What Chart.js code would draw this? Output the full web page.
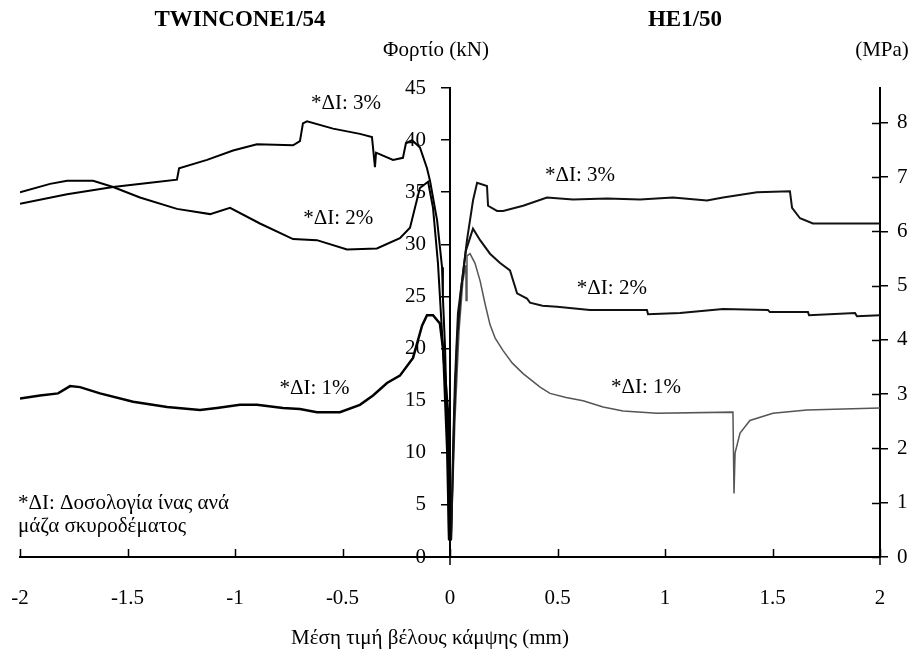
<!DOCTYPE html>
<html>
<head>
<meta charset="utf-8">
<script src="https://cdn.jsdelivr.net/npm/chart.js@4.4.0/dist/chart.umd.min.js"></script>
<style>
    html, body { margin: 0; padding: 0; background: #fff; }
    #wrap { width: 916px; height: 657px; position: relative; }
</style>
</head>
<body>
<div id="wrap"><canvas id="loadChart" width="916" height="657"></canvas></div>
<script>
// Deflection (mm) / load (kN) readings, TWINCONE1/54 on the negative side
const twin3X = [-2.0, -1.781, -1.567, -1.395, -1.270, -1.260, -1.130, -1.009, -0.898, -0.730, -0.698, -0.684, -0.665, -0.544, -0.419, -0.363, -0.349, -0.344, -0.265, -0.219, -0.205, -0.177, -0.140, -0.107, -0.093, -0.060, -0.037, -0.033, -0.023, -0.009, -0.005];
const twin3Y = [33.9, 34.8, 35.5, 35.9, 36.2, 37.3, 38.1, 39.0, 39.6, 39.5, 39.9, 41.6, 41.8, 41.1, 40.6, 40.3, 37.4, 38.8, 38.1, 38.3, 39.7, 40.0, 39.3, 37.3, 36.1, 32.3, 27.8, 24.9, 20.1, 9.0, 1.6];

const twin2X = [-2.0, -1.860, -1.781, -1.660, -1.567, -1.442, -1.270, -1.116, -1.023, -0.884, -0.730, -0.619, -0.479, -0.340, -0.233, -0.186, -0.163, -0.140, -0.102, -0.079, -0.056, -0.033, -0.014, -0.005];
const twin2Y = [35.0, 35.8, 36.1, 36.1, 35.5, 34.5, 33.4, 32.9, 33.5, 32.0, 30.5, 30.4, 29.5, 29.6, 30.6, 31.6, 33.5, 35.4, 36.0, 33.5, 28.2, 20.1, 10.2, 1.6];

const twin1X = [-2.0, -1.907, -1.823, -1.767, -1.721, -1.628, -1.474, -1.316, -1.163, -1.084, -0.977, -0.898, -0.777, -0.698, -0.619, -0.512, -0.419, -0.358, -0.293, -0.233, -0.172, -0.130, -0.107, -0.079, -0.047, -0.033, -0.009, -0.002, 0.0];
const twin1Y = [15.2, 15.5, 15.7, 16.4, 16.3, 15.7, 14.9, 14.4, 14.1, 14.3, 14.6, 14.6, 14.3, 14.2, 13.9, 13.9, 14.6, 15.5, 16.7, 17.4, 19.1, 22.2, 23.2, 23.2, 22.4, 20.1, 13.8, 7.4, 1.6];

// HE1/50 on the positive side
const he3X = [0.005, 0.014, 0.023, 0.037, 0.056, 0.079, 0.107, 0.126, 0.172, 0.177, 0.219, 0.247, 0.340, 0.451, 0.572, 0.730, 0.884, 1.037, 1.195, 1.270, 1.428, 1.581, 1.591, 1.628, 1.688, 1.814, 2.0];
const he3Y = [1.6, 10.2, 16.9, 23.4, 26.5, 30.4, 34.2, 35.9, 35.6, 33.7, 33.2, 33.2, 33.7, 34.5, 34.3, 34.4, 34.3, 34.5, 34.2, 34.5, 35.0, 35.1, 33.5, 32.5, 32.0, 32.0, 32.0];

const he2X = [0.005, 0.019, 0.033, 0.051, 0.074, 0.107, 0.140, 0.186, 0.233, 0.279, 0.312, 0.358, 0.372, 0.430, 0.498, 0.651, 0.916, 0.921, 1.070, 1.270, 1.479, 1.488, 1.665, 1.670, 1.884, 1.893, 2.0];
const he2Y = [1.6, 13.1, 20.8, 25.6, 29.4, 31.5, 30.4, 29.1, 28.2, 27.5, 25.3, 24.8, 24.4, 24.1, 24.0, 23.7, 23.7, 23.3, 23.4, 23.8, 23.7, 23.5, 23.5, 23.2, 23.4, 23.1, 23.2];

const he1X = [0.005, 0.023, 0.042, 0.060, 0.074, 0.075, 0.079, 0.093, 0.116, 0.140, 0.163, 0.186, 0.210, 0.247, 0.290, 0.340, 0.419, 0.465, 0.540, 0.619, 0.712, 0.805, 0.963, 1.316, 1.321, 1.326, 1.349, 1.395, 1.502, 1.660, 2.0];
const he1Y = [1.6, 13.1, 21.7, 26.5, 28.0, 24.6, 28.9, 29.1, 28.2, 26.5, 24.3, 22.3, 21.0, 19.8, 18.6, 17.6, 16.3, 15.7, 15.3, 15.0, 14.4, 14.0, 13.8, 13.9, 6.1, 10.0, 11.9, 13.1, 13.8, 14.1, 14.3];

// Axis ticks
const xTicks = [-2, -1.5, -1, -0.5, 0, 0.5, 1, 1.5, 2];
const kNTicks = [0, 5, 10, 15, 20, 25, 30, 35, 40, 45];
const mpaTicks = [0, 1, 2, 3, 4, 5, 6, 7, 8];

const serif = '"Liberation Serif", "DejaVu Serif", serif';

function toPoints(xs, ys) {
    return xs.map((x, i) => ({ x: x, y: ys[i] }));
}

function curve(label, xs, ys, color, width) {
    return {
        label: label,
        data: toPoints(xs, ys),
        borderColor: color,
        borderWidth: width,
        pointRadius: 0,
        tension: 0,
        fill: false
    };
}

// Extra bits: inward ticks, titles, curve notes
const extrasPlugin = {
    id: 'extras',
    afterDraw(chart) {
        const ctx = chart.ctx;
        const xs = chart.scales.x;
        const ys = chart.scales.y;
        const y2 = chart.scales.y2;
        const area = chart.chartArea;
        ctx.save();
        ctx.strokeStyle = '#000';
        ctx.lineWidth = 1.5;
        ctx.beginPath();
        xTicks.forEach(v => {
            const px = Math.round(xs.getPixelForValue(v)) + 0.5;
            ctx.moveTo(px, area.bottom);
            ctx.lineTo(px, area.bottom - 8);
        });
        // axes run a little past the x axis
        ctx.moveTo(Math.round(xs.getPixelForValue(0)), area.bottom);
        ctx.lineTo(Math.round(xs.getPixelForValue(0)), area.bottom + 8);
        ctx.moveTo(area.right, area.bottom);
        ctx.lineTo(area.right, area.bottom + 8);
        mpaTicks.forEach(v => {
            const py = Math.round(y2.getPixelForValue(v)) + 0.5;
            ctx.moveTo(area.right - 8, py);
            ctx.lineTo(area.right, py);
        });
        ctx.stroke();

        ctx.fillStyle = '#000';
        ctx.textBaseline = 'middle';
        ctx.textAlign = 'center';
        ctx.font = 'bold 23px ' + serif;
        ctx.fillText('TWINCONE1/54', 240, 20);
        ctx.fillText('HE1/50', 685, 20);
        ctx.font = '21px ' + serif;
        ctx.fillText('Φορτίο (kN)', 436, 50);
        ctx.fillText('(MPa)', 882, 50);
        ctx.fillText('Μέση τιμή βέλους κάμψης (mm)', 430, 638);

        const notes = [
            ['*ΔI: 3%', -0.484, 43.5],
            ['*ΔI: 2%', -0.52, 32.5],
            ['*ΔI: 1%', -0.63, 16.2],
            ['*ΔI: 3%', 0.605, 36.6],
            ['*ΔI: 2%', 0.753, 25.8],
            ['*ΔI: 1%', 0.912, 16.3]
        ];
        notes.forEach(n => {
            ctx.fillText(n[0], xs.getPixelForValue(n[1]), ys.getPixelForValue(n[2]));
        });

        ctx.textAlign = 'left';
        ctx.fillText('*ΔI: Δοσολογία ίνας ανά', 18, 503);
        ctx.fillText('μάζα σκυροδέματος', 18, 526);
        ctx.restore();
    }
};

document.addEventListener('DOMContentLoaded', function() {
    const ctx = document.getElementById('loadChart').getContext('2d');

    new Chart(ctx, {
        type: 'line',
        data: {
            datasets: [
                curve('TWINCONE 3%', twin3X, twin3Y, '#000', 2),
                curve('TWINCONE 2%', twin2X, twin2Y, '#000', 2),
                curve('TWINCONE 1%', twin1X, twin1Y, '#000', 2.5),
                curve('HE 3%', he3X, he3Y, '#111', 2),
                curve('HE 2%', he2X, he2Y, '#111', 2),
                curve('HE 1%', he1X, he1Y, '#555', 1.5)
            ]
        },
        options: {
            responsive: false,
            animation: false,
            devicePixelRatio: 1,
            layout: {
                padding: { left: 20, top: 88, right: 0, bottom: 0 }
            },
            plugins: {
                legend: { display: false },
                tooltip: { enabled: false }
            },
            scales: {
                x: {
                    type: 'linear',
                    position: 'bottom',
                    min: -2,
                    max: 2,
                    afterFit: function(scale) {
                        scale.height = 100;
                        scale.paddingLeft = 0;
                        scale.paddingRight = 0;
                    },
                    afterBuildTicks: function(scale) {
                        scale.ticks = xTicks.map(v => ({ value: v }));
                    },
                    ticks: {
                        color: '#000',
                        padding: 29,
                        maxRotation: 0,
                        callback: v => String(v),
                        font: { family: serif, size: 21 }
                    },
                    grid: { display: false, drawTicks: false },
                    border: { display: true, color: '#000', width: 2 }
                },
                y: {
                    type: 'linear',
                    position: 'center',
                    min: 0,
                    max: 45,
                    afterBuildTicks: function(scale) {
                        scale.ticks = kNTicks.map(v => ({ value: v }));
                    },
                    ticks: {
                        color: '#000',
                        padding: 16,
                        callback: v => String(v),
                        font: { family: serif, size: 21 }
                    },
                    grid: {
                        display: true,
                        drawOnChartArea: false,
                        drawTicks: true,
                        tickLength: 8,
                        color: '#000',
                        lineWidth: 1.5
                    },
                    border: { display: true, color: '#000', width: 2 }
                },
                y2: {
                    type: 'linear',
                    position: 'right',
                    min: 0,
                    max: 8.64,
                    afterFit: function(scale) { scale.width = 36; },
                    afterBuildTicks: function(scale) {
                        scale.ticks = mpaTicks.map(v => ({ value: v }));
                    },
                    ticks: {
                        color: '#000',
                        padding: 9,
                        callback: v => String(v),
                        font: { family: serif, size: 21 }
                    },
                    grid: {
                        display: true,
                        drawOnChartArea: false,
                        drawTicks: true,
                        tickLength: 8,
                        color: '#000',
                        lineWidth: 1.5
                    },
                    border: { display: true, color: '#000', width: 2 }
                }
            }
        },
        plugins: [extrasPlugin]
    });
});
</script>
</body>
</html>
